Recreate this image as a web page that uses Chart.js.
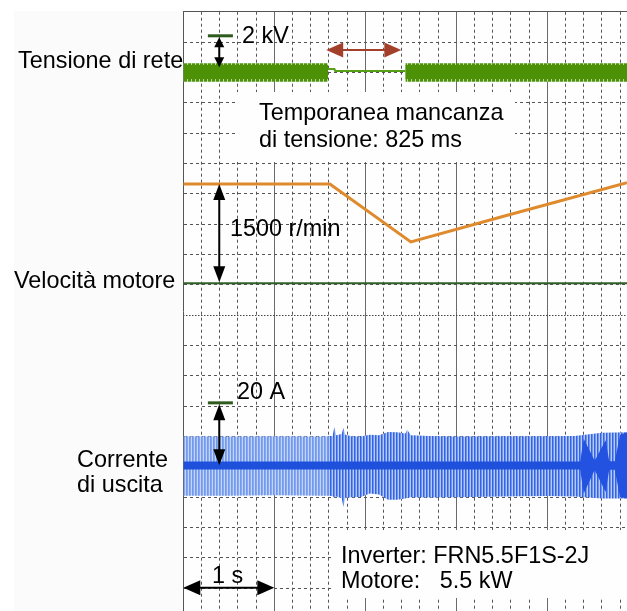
<!DOCTYPE html>
<html><head><meta charset="utf-8">
<script src="https://cdn.jsdelivr.net/npm/chart.js@4.4.1/dist/chart.umd.min.js"></script>
<style>html,body{margin:0;padding:0;background:#fff;}#wrap{width:627px;height:611px;}</style>
</head><body><div id="wrap"><canvas id="c" width="627" height="611"></canvas></div>
<script>
// ---------------- data ----------------
const TIME_MAX = 4.875;          // s, visible part of the record
const GRID_ROWS = 19.75;         // visible vertical divisions (from top)

// Mains voltage "Tensione di rete" (kV)
const voltOnStart  = [0, 2.44];          // s
const voltOnEnd    = [1.59, 4.875];      // s
const voltEnvelope = [0.49, -0.52];      // outer peak top / bottom
const voltCore     = [0.40, -0.37];      // dense core top / bottom
const voltOffTime  = [1.59, 1.66, 1.67, 2.44];
const voltOffValue = [0.18, 0.18, 0.07, 0.07];
const outageMs = 825;

// Motor speed "Velocità motore" (r/min)
const speedTime = [0, 1.61, 2.50, 3.50, 4.875];
const speedRpm  = [1500, 1500, 624, 1005, 1520];

// Output current "Corrente di uscita" (A), envelope
const curTime   = [0, 0.5, 1.0, 1.5, 1.59, 1.64, 1.66, 1.68, 1.74, 1.76, 1.78, 1.85, 1.95, 2.05, 2.15, 2.25, 2.35, 2.44, 2.46, 2.50, 2.7, 3.0, 3.5, 4.0, 4.3, 4.6, 4.875];
const curTop    = [9.3, 9.2, 9.3, 9.2, 9.3, 9.4, 12.3, 9.6, 10.0, 12.0, 9.8, 9.3, 9.2, 9.8, 9.6, 10.7, 10.6, 10.2, 11.4, 9.6, 9.4, 9.2, 9.3, 9.3, 9.4, 10.4, 10.6];
const curBottom = [-9.7, -9.7, -9.6, -9.7, -9.7, -9.8, -10.4, -10.0, -10.5, -13.3, -10.4, -10.2, -10.1, -9.0, -9.3, -11.0, -11.0, -10.6, -10.4, -10.2, -10.3, -10.2, -10.0, -9.8, -10.0, -10.6, -10.6];
const curCore   = [1.2, -1.3];
const outageStart = 1.59;
const denseTime   = [4.36, 4.40, 4.52, 4.64, 4.68, 4.74, 4.80, 4.875];
const denseTop    = [1.2, 8.5, 1.5, 8.0, 1.2, 1.2, 9.8, 10.6];
const denseBottom = [-1.3, -9.0, -1.5, -8.5, -1.3, -1.3, -10.2, -10.6];

// channel settings: zero position (divisions from top), units per division
const CH = {
  volt:  {zeroDiv: 1.997, perDiv: 1.663},   // kV/div
  speed: {zeroDiv: 8.949, perDiv: 458.5},   // r/min/div
  cur:   {zeroDiv: 14.95, perDiv: 9.71}     // A/div
};
// marker values
const VOLT_MARK = 2, SPEED_MARK = 1500, CUR_MARK = 20;

// ---------------- helpers ----------------
function stripe(cols){
  const c = document.createElement('canvas'); c.width = cols.length; c.height = 4;
  const g = c.getContext('2d');
  cols.forEach((col,i)=>{ g.fillStyle = col; g.fillRect(i,0,1,4); });
  return g.createPattern(c,'repeat');
}
const pts = (xs, ys) => xs.map((x,i)=>({x, y: ys[i]}));
const flat = (x0, x1, v) => [{x:x0,y:v},{x:x1,y:v}];
function chAxis(ch){
  return {type:'linear', display:false, min: -(GRID_ROWS - ch.zeroDiv)*ch.perDiv, max: ch.zeroDiv*ch.perDiv};
}
const base = {pointRadius:0, borderWidth:0, tension:0, xAxisID:'x'};

const voltOuterPat = stripe(['#4c9106','#4c9106','#4c9106','#b9d79f']);
const curPrePat  = stripe(['#7199ee','#86a8f1','#c4d4f8']);
const curPostPat = stripe(['#3464e5','#6e93ee','#b6caf6']);

const datasets = [];
// voltage band segments
voltOnStart.forEach((s,i)=>{
  const e = voltOnEnd[i];
  datasets.push(Object.assign({}, base, {yAxisID:'yV', data: flat(s,e,voltEnvelope[0]), fill:'+1', backgroundColor: voltOuterPat, order:10}));
  datasets.push(Object.assign({}, base, {yAxisID:'yV', data: flat(s,e,voltEnvelope[1]), fill:false, order:10}));
  datasets.push(Object.assign({}, base, {yAxisID:'yV', data: flat(s,e,voltCore[0]), fill:'+1', backgroundColor:'#4c9106', order:9}));
  datasets.push(Object.assign({}, base, {yAxisID:'yV', data: flat(s,e,voltCore[1]), fill:false, order:9}));
});
datasets.push(Object.assign({}, base, {yAxisID:'yV', data: pts(voltOffTime, voltOffValue), borderWidth:2, borderColor:'#55a014', fill:false, order:8}));

// current envelope (pre / post outage)
const preIdx = curTime.map((t,i)=>i).filter(i=>curTime[i] <= outageStart);
const postIdx = curTime.map((t,i)=>i).filter(i=>curTime[i] >= outageStart);
[[preIdx, curPrePat],[postIdx, curPostPat]].forEach(([idx, pat])=>{
  datasets.push(Object.assign({}, base, {yAxisID:'yC', data: idx.map(i=>({x:curTime[i], y:curTop[i]})), fill:'+1', backgroundColor: pat, order:10}));
  datasets.push(Object.assign({}, base, {yAxisID:'yC', data: idx.map(i=>({x:curTime[i], y:curBottom[i]})), fill:false, order:10}));
});
datasets.push(Object.assign({}, base, {yAxisID:'yC', data: flat(0, TIME_MAX, curCore[0]), fill:'+1', backgroundColor:'#1f50dc', order:8}));
datasets.push(Object.assign({}, base, {yAxisID:'yC', data: flat(0, TIME_MAX, curCore[1]), fill:false, order:8}));
datasets.push(Object.assign({}, base, {yAxisID:'yC', data: pts(denseTime, denseTop), fill:'+1', backgroundColor:'#2352e0', order:7}));
datasets.push(Object.assign({}, base, {yAxisID:'yC', data: pts(denseTime, denseBottom), fill:false, order:7}));

// speed
datasets.push(Object.assign({}, base, {yAxisID:'yS', data: flat(0, TIME_MAX, 0), borderWidth:2, borderColor:'#2f6226', fill:false, order:3}));
datasets.push(Object.assign({}, base, {yAxisID:'yS', data: pts(speedTime, speedRpm), borderWidth:3, borderColor:'#e08a2e', fill:false, order:1}));

// ---------------- annotations ----------------
const FONT = '23.4px "Liberation Sans", Arial, sans-serif';
function dblArrow(ctx, x1, y1, x2, y2, len, wid, color, lw){
  const a = Math.atan2(y2-y1, x2-x1), c = Math.cos(a), s = Math.sin(a);
  ctx.save(); ctx.strokeStyle = color; ctx.fillStyle = color; ctx.lineWidth = lw;
  ctx.beginPath(); ctx.moveTo(x1 + c*len*0.8, y1 + s*len*0.8); ctx.lineTo(x2 - c*len*0.8, y2 - s*len*0.8); ctx.stroke();
  const head = (tx, ty, dir) => {
    const bx = tx - dir*c*len, by = ty - dir*s*len;
    ctx.beginPath(); ctx.moveTo(tx, ty);
    ctx.lineTo(bx - s*wid/2, by + c*wid/2); ctx.lineTo(bx + s*wid/2, by - c*wid/2); ctx.closePath(); ctx.fill();
  };
  head(x2, y2, 1); head(x1, y1, -1);
  ctx.restore();
}
const annot = {
  id: 'annot',
  beforeDraw(chart){
    const ctx = chart.ctx, a = chart.chartArea;
    ctx.save(); ctx.fillStyle = '#fbfbfb'; ctx.fillRect(14, 11, a.left - 14, 611 - 11);
    ctx.fillStyle = '#fefefe'; ctx.fillRect(a.left, a.top, a.right - a.left, a.bottom - a.top); ctx.restore();
  },
  beforeDatasetsDraw(chart){
    const ctx = chart.ctx;
    ctx.save(); ctx.fillStyle = '#fefefe';
    ctx.fillRect(237, 92, 278, 70);
    ctx.fillRect(333, 530, 294, 68);
    ctx.restore();
  },
  afterDatasetsDraw(chart){
    const ctx = chart.ctx, sc = chart.scales;
    const x = sc.x, yV = sc.yV, yS = sc.yS, yC = sc.yC, g = sc.grid;
    const mx0 = x.getPixelForValue(0.27), mx1 = x.getPixelForValue(0.545), ax = x.getPixelForValue(0.395);
    // channel markers
    ctx.save(); ctx.strokeStyle = '#2f5a1d'; ctx.lineWidth = 3;
    [yV.getPixelForValue(VOLT_MARK), yC.getPixelForValue(CUR_MARK)].forEach(py=>{
      ctx.beginPath(); ctx.moveTo(mx0, py); ctx.lineTo(mx1, py); ctx.stroke();
    });
    ctx.restore();
    dblArrow(ctx, ax, yV.getPixelForValue(VOLT_MARK)+1.5, ax, yV.getPixelForValue(voltEnvelope[0])+4, 10, 10, '#000', 2);
    dblArrow(ctx, ax, yS.getPixelForValue(SPEED_MARK), ax, yS.getPixelForValue(0)-1, 16, 12, '#000', 2);
    dblArrow(ctx, ax, yC.getPixelForValue(CUR_MARK)+1.5, ax, yC.getPixelForValue(0), 16, 12, '#000', 2);
    dblArrow(ctx, x.getPixelForValue(0), g.getPixelForValue(18.98), x.getPixelForValue(1), g.getPixelForValue(18.98), 17, 15, '#000', 2);
    dblArrow(ctx, x.getPixelForValue(outageStart - 0.02), g.getPixelForValue(1.26), x.getPixelForValue(outageStart - 0.02 + outageMs/1000), g.getPixelForValue(1.26), 17, 15, '#a3402b', 2);
    // texts
    ctx.save(); ctx.font = FONT; ctx.fillStyle = '#000'; ctx.textBaseline = 'alphabetic'; ctx.textAlign = 'left';
    ctx.fillText('Tensione di rete', 18, 68);
    ctx.fillText('2 kV', 242, 43);
    ctx.fillText('Temporanea mancanza', 259, 120);
    ctx.fillText('di tensione: ' + outageMs + ' ms', 259, 147);
    ctx.fillText('1500 r/min', 230, 236);
    ctx.fillText('Velocità motore', 14, 288);
    ctx.fillText('20 A', 237, 399);
    ctx.fillText('Corrente', 77, 467);
    ctx.fillText('di uscita', 77, 492);
    ctx.fillText('1 s', 212, 583);
    ctx.fillText('Inverter: FRN5.5F1S-2J', 341, 563);
    ctx.fillText('Motore:   5.5 kW', 341, 588);
    ctx.restore();
  }
};

// ---------------- chart ----------------
const GRID_COLOR = '#555';
new Chart(document.getElementById('c'), {
  type: 'line',
  data: {datasets},
  options: {
    responsive: false, animation: false, devicePixelRatio: 1,
    parsing: true, normalized: true,
    layout: {padding: {left: 183.3, top: 11.7, right: 0, bottom: 0}},
    plugins: {legend: {display: false}, tooltip: {enabled: false}},
    scales: {
      x: {type: 'linear', position: 'bottom', min: 0, max: TIME_MAX,
          ticks: {display: false}, border: {display: false, dash: [3, 3]},
          grid: {color: GRID_COLOR, lineWidth: 1, drawTicks: false},
          afterBuildTicks: s => { const t = []; for (let k = 1; k * 0.2 < TIME_MAX; k++) if (k % 5) t.push({value: k * 0.2}); s.ticks = t; }},
      xMajor: {type: 'linear', position: 'top', min: 0, max: TIME_MAX,
          ticks: {display: false}, border: {display: true, color: '#555', width: 1},
          grid: {color: '#6a6a6a', lineWidth: 1, drawTicks: false},
          afterBuildTicks: s => { const t = []; for (let k = 1; k < TIME_MAX; k++) t.push({value: k}); s.ticks = t; }},
      grid: {type: 'linear', position: 'left', reverse: true, min: 0, max: GRID_ROWS,
          ticks: {display: false}, border: {display: true, color: '#555', width: 1, dash: [3, 3]},
          grid: {color: GRID_COLOR, lineWidth: 1, drawTicks: false},
          afterBuildTicks: s => { const t = []; for (let k = 1; k < GRID_ROWS; k++) if (k !== 10) t.push({value: k}); s.ticks = t; }},
      gridMid: {type: 'linear', position: 'left', reverse: true, min: 0, max: GRID_ROWS,
          ticks: {display: false}, border: {display: false, dash: [1.5, 1.5]},
          grid: {color: '#444', lineWidth: 1, drawTicks: false},
          afterBuildTicks: s => { s.ticks = [{value: 10}]; }},
      yV: chAxis(CH.volt),
      yS: chAxis(CH.speed),
      yC: chAxis(CH.cur)
    }
  },
  plugins: [annot]
});
</script></body></html>
